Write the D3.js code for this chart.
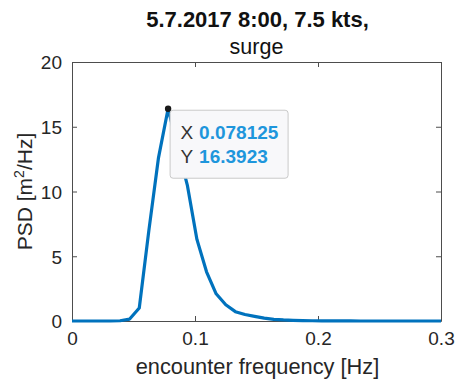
<!DOCTYPE html>
<html>
<head>
<meta charset="utf-8">
<script src="https://cdn.jsdelivr.net/npm/d3@7"></script>
<style>
  html, body { margin: 0; padding: 0; background: #fff; }
  svg { display: block; font-family: "Liberation Sans", Arial, Helvetica, sans-serif; }
</style>
</head>
<body>
<svg id="chart" width="458" height="385"></svg>
<script>
// Encounter frequency grid [Hz] (df = 1/128 Hz)
const frequency = [
  0, 0.0078125, 0.015625, 0.0234375, 0.03125, 0.0390625, 0.046875, 0.0546875,
  0.0625, 0.0703125, 0.078125, 0.0859375, 0.09375, 0.1015625, 0.109375, 0.1171875,
  0.125, 0.1328125, 0.140625, 0.1484375, 0.15625, 0.1640625, 0.171875, 0.1796875,
  0.1875, 0.1953125, 0.203125, 0.2109375, 0.21875, 0.2265625, 0.234375, 0.2421875,
  0.25, 0.2578125, 0.265625, 0.2734375, 0.28125, 0.2890625, 0.296875, 0.3046875
];
// Surge power spectral density [m^2/Hz]
const psd = [
  0, 0, 0, 0, 0, 0.02, 0.15, 1.0,
  7.0, 12.6, 16.3923, 13.4, 10.5, 6.3, 3.8, 2.1,
  1.25, 0.72, 0.5, 0.36, 0.22, 0.13, 0.08, 0.05,
  0.03, 0.02, 0.01, 0.01, 0.005, 0.005, 0, 0,
  0, 0, 0, 0, 0, 0, 0, 0
];
const xTicks = [0, 0.1, 0.2, 0.3];
const yTicks = [0, 5, 10, 15, 20];
const titleLines = ["5.7.2017 8:00, 7.5 kts,", "surge"];
const xLabel = "encounter frequency [Hz]";
// Data tip marker
const tipIndex = 10;
const tipX = "0.078125";
const tipY = "16.3923";

const svg = d3.select("#chart");
const plotLeft = 72, plotRight = 441, plotTop = 62, plotBottom = 321;

const x = d3.scaleLinear().domain([0, 0.3]).range([plotLeft, plotRight]);
const y = d3.scaleLinear().domain([0, 20]).range([plotBottom, plotTop]);

const axisColor = "#4d4d4d";
const textColor = "#262626";

// Title
svg.append("text")
  .attr("x", (plotLeft + plotRight) / 2 + 1).attr("y", 26.5)
  .attr("text-anchor", "middle")
  .attr("font-size", 22).attr("font-weight", "bold").attr("fill", "#111")
  .text(titleLines[0]);
svg.append("text")
  .attr("x", (plotLeft + plotRight) / 2).attr("y", 54)
  .attr("text-anchor", "middle")
  .attr("font-size", 21.5).attr("fill", "#111")
  .text(titleLines[1]);

// Axes with inward ticks
const gx = svg.append("g").attr("transform", `translate(0,${plotBottom})`)
  .call(d3.axisBottom(x).tickValues(xTicks).tickFormat(d3.format("")).tickSizeInner(-5).tickSizeOuter(0).tickPadding(11));
const gxTop = svg.append("g").attr("transform", `translate(0,${plotTop})`)
  .call(d3.axisTop(x).tickValues(xTicks).tickFormat("").tickSizeInner(-5).tickSizeOuter(0));
const gy = svg.append("g").attr("transform", `translate(${plotLeft},0)`)
  .call(d3.axisLeft(y).tickValues(yTicks).tickSizeInner(-5).tickSizeOuter(0).tickPadding(10));
const gyRight = svg.append("g").attr("transform", `translate(${plotRight},0)`)
  .call(d3.axisRight(y).tickValues(yTicks).tickFormat("").tickSizeInner(-5).tickSizeOuter(0));

[gx, gxTop, gy, gyRight].forEach(g => {
  g.select(".domain").attr("stroke", axisColor).attr("stroke-width", 1);
  g.selectAll(".tick line").attr("stroke", axisColor);
  g.selectAll(".tick text").attr("fill", textColor).attr("font-size", 19)
    .attr("font-family", "'Liberation Sans', Arial, Helvetica, sans-serif");
});
gy.selectAll(".tick text").attr("dy", "0.36em");

// Axis labels
svg.append("text")
  .attr("x", (plotLeft + plotRight) / 2 + 1).attr("y", 374)
  .attr("text-anchor", "middle").attr("font-size", 21.8).attr("fill", textColor)
  .text(xLabel);
const yl = svg.append("text")
  .attr("transform", `translate(32,${(plotTop + plotBottom) / 2}) rotate(-90)`)
  .attr("text-anchor", "middle").attr("font-size", 21).attr("fill", textColor);
yl.append("tspan").text("PSD [m");
yl.append("tspan").attr("font-size", 14).attr("dy", -8).text("2");
yl.append("tspan").attr("dy", 8).text("/Hz]");

// Spectrum line, clipped to the axes box
svg.append("clipPath").attr("id", "plotClip")
  .append("rect").attr("x", plotLeft).attr("y", plotTop - 2)
  .attr("width", plotRight - plotLeft).attr("height", plotBottom - plotTop + 4);

const line = d3.line().x((d, i) => x(frequency[i])).y(d => y(d));
svg.append("path")
  .datum(psd)
  .attr("clip-path", "url(#plotClip)")
  .attr("fill", "none")
  .attr("stroke", "#0072BD")
  .attr("stroke-width", 3.2)
  .attr("stroke-linejoin", "round")
  .attr("d", line);

// Data tip
const px = x(frequency[tipIndex]), py = y(psd[tipIndex]);
svg.append("circle").attr("cx", px).attr("cy", py).attr("r", 3.2).attr("fill", "#1a1a1a");

const tip = svg.append("g");
tip.append("rect")
  .attr("x", px + 2).attr("y", py + 1.5).attr("width", 118).attr("height", 68)
  .attr("rx", 3).attr("fill", "#f8f8fa").attr("stroke", "#c9c9c9").attr("stroke-width", 1);
const rows = [["X", tipX, 139], ["Y", tipY, 163]];
rows.forEach(([k, v, by]) => {
  tip.append("text").attr("x", px + 12.5).attr("y", by).attr("font-size", 19).attr("fill", "#333").text(k);
  tip.append("text").attr("x", px + 31).attr("y", by).attr("font-size", 19).attr("font-weight", "bold").attr("fill", "#1e96dc").text(v);
});
</script>
</body>
</html>
